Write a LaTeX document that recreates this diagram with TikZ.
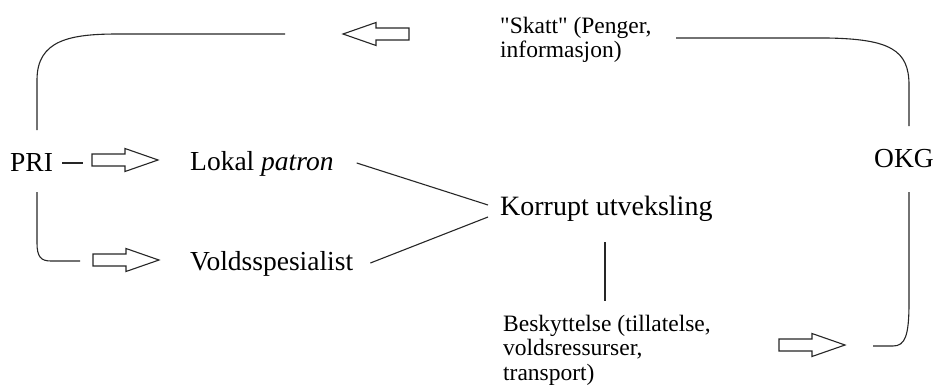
\documentclass[tikz,border=0pt]{standalone}
\usepackage{fontspec}
\setmainfont{Liberation Serif}[Ligatures=TeXOff]
\usetikzlibrary{calc}
\begin{document}
\begin{tikzpicture}[x=1pt,y=-1pt,
  conn/.style={draw=black!85, line width=1.1pt},
  bigtxt/.style={inner sep=0pt, anchor=base west, font=\fontsize{27.5}{33}\selectfont},
  midtxt/.style={inner sep=0pt, anchor=base west, font=\fontsize{28}{33}\selectfont},
  smalltxt/.style={inner sep=0pt, anchor=base west, font=\fontsize{23.5}{24.3}\selectfont},
  barrow/.pic={
    \draw[draw=black!85, line width=1.1pt, fill=white]
      (0,-6) -- (33,-6) -- (33,-11.5) -- (66,0) -- (33,11.5) -- (33,6) -- (0,6) -- cycle;
    \coordinate (-tail) at (0,0);
    \coordinate (-tip) at (66,0);
  }]
\useasboundingbox (0,0) rectangle (935,388);

% text nodes
\node[bigtxt] (pri) at (10,171) {PRI};
\node[bigtxt] (lokal) at (190,170) {Lokal \textit{patron}};
\node[bigtxt] (volds) at (190,270) {Voldsspesialist};
\node[midtxt] (korrupt) at (500,215) {Korrupt utveksling};
\node[bigtxt] (okg) at (874,167) {OKG};
\node[smalltxt] (skatt) at (500,33) {\begin{tabular}[t]{@{}l@{}}"Skatt" (Penger,\\informasjon)\end{tabular}};
\node[smalltxt] (besk) at (503,331.5) {\begin{tabular}[t]{@{}l@{}}Beskyttelse (tillatelse,\\voldsressurser,\\transport)\end{tabular}};

% block arrows
\pic (a1) at (92,160) {barrow};
\pic (a2) at (93,260) {barrow};
\pic[rotate=180] (atop) at (409,34) {barrow};
\pic (a4) at (779,345) {barrow};

% free ends
\coordinate (tl0) at ($(pri.base west)+(27,-41)$);
\coordinate (tl1) at ($(atop-tip)+(-58,0)$);
\coordinate (bl0) at ($(pri.base west)+(27,21)$);
\coordinate (bl1) at ($(a2-tail)+(-13,1)$);
\coordinate (tr0) at ($(skatt.base west)+(176,5)$);
\coordinate (tr1) at ($(okg.base west)+(35,-41)$);
\coordinate (br0) at ($(okg.base west)+(35,25)$);
\coordinate (br1) at ($(a4-tip)+(28,1)$);

% loop lines
\draw[conn] (tl0) -- (37,80) .. controls (37,40) and (70,34) .. (118,34) -- (tl1);
\draw[conn] (bl0) -- (37,243) .. controls (37,257) and (41,261) .. (51,261) -- (bl1);
\draw[conn] (tr0) -- (827,38) .. controls (890,39) and (909,50) .. (909,85) -- (tr1);
\draw[conn] (br0) -- (909,303) .. controls (909,336) and (905,346) .. (893,346) -- (br1);

% short connectors
\draw[conn] ($(pri.base east)+(9,-8)$) -- ($(a1-tail)+(-9,3)$);
\draw[conn] ($(lokal.base east)+(23,-7)$) -- ($(korrupt.base west)+(-12,-10)$);
\draw[conn] ($(volds.base east)+(17,-7)$) -- ($(korrupt.base west)+(-12,2)$);
\draw[conn] ($(korrupt.base west)+(105,27)$) -- ($(besk.base west)+(102,-31)$);
\end{tikzpicture}
\end{document}
